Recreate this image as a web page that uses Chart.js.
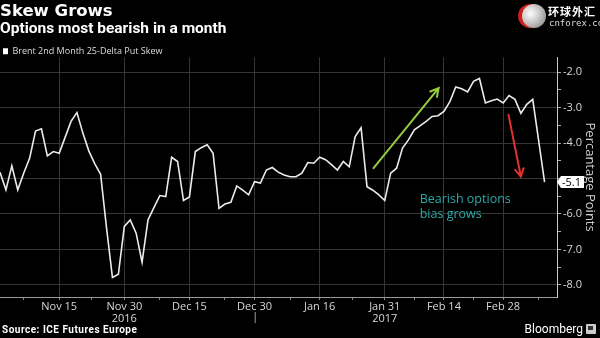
<!DOCTYPE html>
<html>
<head>
<meta charset="utf-8">
<script src="https://cdn.jsdelivr.net/npm/chart.js@4.4.1/dist/chart.umd.min.js"></script>
<style>
html, body { margin: 0; padding: 0; background: #000; }
#wrap { position: relative; width: 600px; height: 338px; background: #000; overflow: hidden; }
#skewChart { position: absolute; left: 0; top: 0; }
.src { position: absolute; left: 2px; top: 324px; color: #fff; font: bold 10px Roboto, sans-serif; letter-spacing: 0.5px; }
.bbg { position: absolute; right: 17px; top: 322px; color: #fff; font: 12px Roboto, sans-serif; }
.bbg-icon { position: absolute; left: 586px; top: 324px; width: 10px; height: 10px; background: #ccc; border-radius: 1px; }
.bbg-icon::after { content: ""; position: absolute; left: 2px; top: 2px; width: 5px; height: 4px; background: #333; }
.logo-red { position: absolute; left: 518px; top: 4px; width: 24px; height: 24px; border-radius: 50%; background: #d01c1c; }
.logo-ball { position: absolute; left: 522px; top: 4px; width: 24px; height: 24px; border-radius: 50%;
  background: radial-gradient(circle at 35% 40%, #fff 0%, #ccc 40%, #777 100%); }
.logo-cn { position: absolute; left: 548px; top: 3px; color: #fff; font: bold 11px "Noto Sans CJK SC", sans-serif; white-space: nowrap; letter-spacing: 1px; }
.logo-en { position: absolute; left: 549px; top: 18px; color: #ddd; font: 9px "DejaVu Sans Mono", monospace; white-space: nowrap; }
</style>
</head>
<body>
<div id="wrap">
  <canvas id="skewChart" width="600" height="338"></canvas>
  <div class="logo-red"></div>
  <div class="logo-ball"></div>
  <div class="logo-cn">环球外汇</div>
  <div class="logo-en">cnforex.com</div>
  <div class="src">Source: ICE Futures Europe</div>
  <div class="bbg">Bloomberg</div>
  <div class="bbg-icon"></div>
</div>
<script>
// Brent 2nd month 25-delta put skew, one value per trading day (weekdays),
// Nov 1 2016 .. Mar 9 2017. x position = trading day index.
const skew = [
  -4.82, -5.32, -4.64, -5.32, -4.85, -4.43, -3.66, -3.60, -4.36, -4.24,
  -4.29, -3.84, -3.39, -3.14, -3.72, -4.22, -4.58, -4.88, -6.40, -7.79,
  -7.70, -6.35, -6.17, -6.54, -7.36, -6.17, -5.82, -5.48, -5.51, -4.40,
  -4.52, -5.62, -5.52, -4.24, -4.13, -4.05, -4.29, -5.84, -5.72, -5.67,
  -5.21, -5.33, -5.46, -5.09, -5.13, -4.76, -4.69, -4.82, -4.90, -4.95,
  -4.95, -4.85, -4.55, -4.57, -4.40, -4.47, -4.61, -4.76, -4.52, -4.67,
  -3.82, -3.57, -5.23, -5.33, -5.46, -5.62, -4.85, -4.71, -4.14, -3.91,
  -3.63, -3.51, -3.39, -3.25, -3.23, -3.11, -2.83, -2.42, -2.47, -2.56,
  -2.26, -2.18, -2.87, -2.81, -2.76, -2.87, -2.66, -2.77, -3.16, -2.91,
  -2.77, -3.93, -5.1
];

// labelled days on the time axis (trading day index -> text)
const tickDays = [10, 21, 32, 43, 54, 65, 75, 85];
const tickText = [['Nov 15'], ['Nov 30', '2016'], ['Dec 15'], ['Dec 30'], ['Jan 16'], ['Jan 31', '2017'], ['Feb 14'], ['Feb 28']];
const minorDays = [4, 15.5, 27, 38, 49, 59.5, 70, 80, 91];
const yearBreak = 43.2;

const yTicks = [-8, -7.5, -7, -6.5, -6, -5.5, -5, -4.5, -4, -3.5, -3, -2.5, -2];

const seriesName = 'Brent 2nd Month 25-Delta Put Skew';
const noteLines = ['Bearish options', 'bias grows'];

function arrow(ctx, x0, y0, x1, y1, color) {
  const a = Math.atan2(y1 - y0, x1 - x0);
  const h = 9, s = 0.5;
  ctx.save();
  ctx.strokeStyle = color;
  ctx.lineWidth = 2;
  ctx.lineCap = 'round';
  ctx.beginPath();
  ctx.moveTo(x0, y0);
  ctx.lineTo(x1, y1);
  ctx.moveTo(x1 - h * Math.cos(a - s), y1 - h * Math.sin(a - s));
  ctx.lineTo(x1, y1);
  ctx.lineTo(x1 - h * Math.cos(a + s), y1 - h * Math.sin(a + s));
  ctx.stroke();
  ctx.restore();
}

const annotate = {
  id: 'annotate',
  afterDraw(chart) {
    const { ctx, scales: { x, y }, chartArea } = chart;

    arrow(ctx, x.getPixelForValue(63.1), y.getPixelForValue(-4.71),
               x.getPixelForValue(74.1), y.getPixelForValue(-2.45), '#96cc3a');
    arrow(ctx, x.getPixelForValue(85.9), y.getPixelForValue(-3.20),
               x.getPixelForValue(88.0), y.getPixelForValue(-4.95), '#e2302f');

    ctx.save();
    ctx.fillStyle = '#2aa9a9';
    ctx.font = '12.5px "Open Sans", sans-serif';
    ctx.textBaseline = 'middle';
    ctx.fillText(noteLines[0], x.getPixelForValue(70.9), y.getPixelForValue(-5.60));
    ctx.fillText(noteLines[1], x.getPixelForValue(70.9), y.getPixelForValue(-6.01));

    // last value tag on the axis
    const last = skew[skew.length - 1];
    const ly = y.getPixelForValue(last);
    const bx = chartArea.right + 2;
    ctx.fillStyle = '#fff';
    ctx.beginPath();
    ctx.moveTo(bx - 2, ly);
    ctx.lineTo(bx + 2, ly - 6);
    ctx.lineTo(bx + 25, ly - 6);
    ctx.lineTo(bx + 25, ly + 6);
    ctx.lineTo(bx + 2, ly + 6);
    ctx.closePath();
    ctx.fill();
    ctx.fillStyle = '#000';
    ctx.font = '11px "Open Sans", sans-serif';
    ctx.textAlign = 'left';
    ctx.fillText(last.toFixed(1), bx + 3, ly + 0.5);

    // year boundary marker under the axis
    const yb = x.getPixelForValue(yearBreak);
    ctx.strokeStyle = '#999';
    ctx.lineWidth = 1;
    ctx.beginPath();
    ctx.moveTo(yb - 0.5, chartArea.bottom + 15);
    ctx.lineTo(yb - 0.5, chartArea.bottom + 26);
    ctx.stroke();
    ctx.restore();
  }
};

const ctx = document.getElementById('skewChart').getContext('2d');

new Chart(ctx, {
  type: 'line',
  data: {
    datasets: [{
      label: seriesName,
      data: skew.map((v, i) => ({ x: i, y: v })),
      borderColor: '#ececec',
      backgroundColor: '#fff',
      borderWidth: 1.6,
      pointRadius: 0,
      tension: 0
    }]
  },
  options: {
    responsive: false,
    animation: false,
    devicePixelRatio: 1,
    layout: { padding: { top: 2, left: 0, right: 0, bottom: 0 } },
    plugins: {
      tooltip: { enabled: false },
      title: {
        display: true,
        text: 'Skew Grows',
        align: 'start',
        color: '#fff',
        font: { family: 'DejaVu Sans', size: 16.5, weight: 'bold', lineHeight: 1.13 },
        padding: { top: 0, bottom: 0 }
      },
      subtitle: {
        display: true,
        text: 'Options most bearish in a month',
        align: 'start',
        color: '#fff',
        font: { family: 'Roboto', size: 15.5, weight: 'bold', lineHeight: 1.1 },
        padding: { top: 0, bottom: 6 }
      },
      legend: {
        display: true,
        align: 'start',
        maxHeight: 13.5,
        labels: {
          color: '#ddd',
          boxWidth: 5,
          boxHeight: 6,
          padding: 3,
          font: { family: 'Open Sans', size: 9 },
          generateLabels: () => [{
            text: seriesName, fillStyle: '#fff', strokeStyle: '#fff',
            lineWidth: 0, hidden: false, datasetIndex: 0, fontColor: '#ddd'
          }]
        }
      }
    },
    scales: {
      x: {
        type: 'linear',
        min: 0,
        max: 94.1,
        afterBuildTicks: s => { s.ticks = tickDays.concat(minorDays).map(v => ({ value: v })); },
        afterFit: s => { s.height = 41; },
        border: { display: true, color: '#9a9a9a', width: 1 },
        grid: {
          color: c => tickDays.includes(c.tick && c.tick.value) ? '#363636' : 'rgba(0,0,0,0)',
          tickColor: '#888',
          tickLength: 3
        },
        ticks: {
          autoSkip: false,
          maxRotation: 0,
          padding: 1,
          color: '#d8d8d8',
          font: { family: 'Open Sans', size: 11, lineHeight: 1.1 },
          callback: v => {
            const k = tickDays.indexOf(v);
            return k < 0 ? '' : tickText[k];
          }
        }
      },
      y: {
        type: 'linear',
        position: 'right',
        min: -8.34,
        max: -1.58,
        afterBuildTicks: s => { s.ticks = yTicks.map(v => ({ value: v })); },
        afterFit: s => { s.width = 43; },
        border: { display: true, color: '#c8c8c8', width: 1 },
        grid: {
          color: c => c.tick && Number.isInteger(c.tick.value) ? '#363636' : 'rgba(0,0,0,0)',
          tickColor: '#aaa',
          tickLength: 4
        },
        ticks: {
          autoSkip: false,
          padding: 2,
          color: '#d8d8d8',
          font: { family: 'Open Sans', size: 11 },
          callback: v => (Number.isInteger(v) && v !== -5) ? v.toFixed(1) : ''
        },
        title: {
          display: true,
          text: 'Percantage Points',
          color: '#cfcfcf',
          font: { family: 'Open Sans', size: 13 },
          padding: { top: 2, bottom: 0 }
        }
      }
    }
  },
  plugins: [annotate]
});
</script>
</body>
</html>
